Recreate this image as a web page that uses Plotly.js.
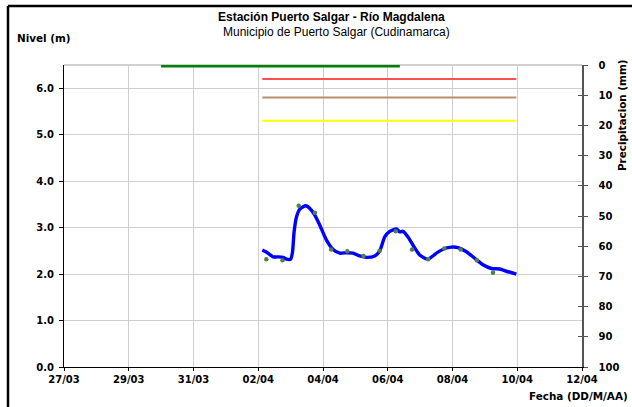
<!DOCTYPE html>
<html>
<head>
<meta charset="utf-8">
<script src="https://cdn.plot.ly/plotly-3.0.1.min.js"></script>
<style>html,body{margin:0;padding:0;background:#fff;overflow:hidden;}#chart{width:632px;height:407px;}</style>
</head>
<body>
<div id="chart"></div>
<script>
// Nivel (m) - continuous record
const levelDates = [
  '2011-04-02 03:00','2011-04-02 05:40','2011-04-02 08:35','2011-04-02 11:00','2011-04-02 14:45',
  '2011-04-02 18:25','2011-04-02 21:00','2011-04-03 00:00','2011-04-03 01:25','2011-04-03 02:35',
  '2011-04-03 04:20','2011-04-03 06:50','2011-04-03 11:15','2011-04-03 14:15','2011-04-03 17:55',
  '2011-04-03 21:40','2011-04-04 02:35','2011-04-04 07:30','2011-04-04 12:25','2011-04-04 17:25',
  '2011-04-04 22:15','2011-04-05 03:15','2011-04-05 08:15','2011-04-05 14:20','2011-04-05 18:05',
  '2011-04-05 21:45','2011-04-06 01:30','2011-04-06 06:25','2011-04-06 08:55','2011-04-06 11:20',
  '2011-04-06 15:00','2011-04-06 18:45','2011-04-06 23:40','2011-04-07 05:50','2011-04-07 12:05',
  '2011-04-07 18:15','2011-04-07 23:10','2011-04-08 04:05','2011-04-08 10:20','2011-04-08 16:25',
  '2011-04-08 22:35','2011-04-09 04:50','2011-04-09 11:00','2011-04-09 17:10','2011-04-09 23:20'
];
const levelValues = [
  2.52,2.48,2.42,2.37,2.37,
  2.36,2.32,2.32,2.48,2.91,
  3.23,3.40,3.47,3.41,3.27,
  3.05,2.73,2.53,2.45,2.46,
  2.45,2.39,2.36,2.39,2.50,
  2.80,2.92,2.97,2.91,2.92,
  2.80,2.62,2.41,2.32,2.45,
  2.55,2.58,2.57,2.48,2.34,
  2.20,2.12,2.11,2.05,2.00
];
// Lecturas de mira (06:00 y 18:00)
const readDates = [
  '2011-04-02 06:00','2011-04-02 18:00','2011-04-03 06:00','2011-04-03 18:00','2011-04-04 06:00',
  '2011-04-04 18:00','2011-04-05 06:00','2011-04-05 18:00','2011-04-06 06:00','2011-04-06 18:00',
  '2011-04-07 06:00','2011-04-07 18:00','2011-04-08 06:00','2011-04-08 18:00','2011-04-09 06:00'
];
const readValues = [2.32,2.30,3.47,3.32,2.53,2.49,2.39,2.50,2.92,2.53,2.32,2.55,2.53,2.30,2.03];
// Umbrales (m)
const thresholdNames = ['Rojo','Naranja','Amarillo'];
const thresholdValues = [6.2, 5.8, 5.3];
const thresholdColors = ['#ff5050','#b8906e','#ffff00'];
// Precipitación (mm)
const rainDates = ['2011-03-30 00:00','2011-04-06 09:00'];
const rainValues = [0, 0];
// Eje X
const xTicks = ['2011-03-27','2011-03-29','2011-03-31','2011-04-02','2011-04-04','2011-04-06','2011-04-08','2011-04-10','2011-04-12'];
const xTickText = ['27/03','29/03','31/03','02/04','04/04','06/04','08/04','10/04','12/04'];
const yTicks = [0,1,2,3,4,5,6];
const y2Ticks = [0,10,20,30,40,50,60,70,80,90,100];
const titleText = 'Estación Puerto Salgar - Río Magdalena';
const subtitleText = 'Municipio de Puerto Salgar (Cudinamarca)';

const L = 64, R = 582, T = 65, B = 367, W = 632, H = 407;
const px = v => (v - L) / (R - L);
const py = v => (B - v) / (B - T);

const tickFont = {family: 'DejaVu Sans', size: 10, color: '#000', weight: 'bold'};
const labelFont = {family: 'DejaVu Sans', size: 10.4, color: '#000', weight: 'bold'};

const traces = [];
thresholdValues.forEach((v, i) => {
  traces.push({
    x: [levelDates[0], levelDates[levelDates.length - 1]], y: [v, v],
    type: 'scatter', mode: 'lines', name: thresholdNames[i],
    line: {color: thresholdColors[i], width: 2}, hoverinfo: 'skip'
  });
});
traces.push({x: rainDates, y: rainValues, yaxis: 'y2', type: 'scatter', mode: 'lines',
  line: {color: '#008000', width: 5}, name: 'Precipitación'});
traces.push({x: levelDates, y: levelValues, type: 'scatter', mode: 'lines',
  line: {color: '#0000ff', width: 3.4, shape: 'spline', smoothing: 0.6}, name: 'Nivel'});
traces.push({x: readDates, y: readValues, type: 'scatter', mode: 'markers',
  marker: {color: '#4f7f4f', size: 4.5}, name: 'Lecturas'});
traces.push({x: [], y: [], yaxis: 'y3', type: 'scatter', mode: 'lines', showlegend: false});

const layout = {
  width: W, height: H,
  margin: {l: L, r: W - R, t: T, b: H - B, pad: 0},
  paper_bgcolor: '#fff', plot_bgcolor: '#fff',
  showlegend: false,
  font: {family: 'Liberation Sans, Arial, sans-serif', color: '#000'},
  xaxis: {
    type: 'date', range: ['2011-03-27', '2011-04-12'],
    tickmode: 'array', tickvals: xTicks, ticktext: xTickText,
    showgrid: true, gridcolor: '#cfcfcf', gridwidth: 1,
    showline: true, linecolor: '#000', linewidth: 1,
    ticks: 'outside', ticklen: 3, tickcolor: '#000',
    tickfont: tickFont, zeroline: false, fixedrange: true
  },
  yaxis: {
    range: [0, 6.5], tickmode: 'array', tickvals: yTicks, tickformat: '.1f',
    showgrid: true, gridcolor: '#cfcfcf', gridwidth: 1,
    showline: true, linecolor: '#000', linewidth: 1,
    ticks: 'outside', ticklen: 4, tickcolor: '#000', ticklabelstandoff: 3,
    tickfont: tickFont, zeroline: false, fixedrange: true
  },
  yaxis2: {
    overlaying: 'y', side: 'right', range: [100, 0],
    tickmode: 'array', tickvals: y2Ticks,
    showgrid: false, showline: true, linecolor: '#555', linewidth: 1.5,
    ticks: 'outside', ticklen: 4, tickcolor: '#555', ticklabelstandoff: 9,
    tickfont: tickFont, zeroline: false, fixedrange: true
  },
  yaxis3: {
    overlaying: 'y', side: 'right', range: [100, 0],
    tickmode: 'array', tickvals: y2Ticks, showticklabels: false,
    showgrid: false, showline: false,
    ticks: 'inside', ticklen: 4, tickcolor: '#555',
    zeroline: false, fixedrange: true
  },
  shapes: [
    {type: 'line', xref: 'paper', yref: 'paper', x0: 0, x1: 1, y0: 1, y1: 1,
      line: {color: '#c0c0c0', width: 1.5}, layer: 'below'},
    {type: 'line', xref: 'paper', yref: 'paper', x0: px(8), x1: px(8), y0: py(6), y1: py(H + 5),
      line: {color: '#000', width: 2.5}},
    {type: 'line', xref: 'paper', yref: 'paper', x0: px(8), x1: px(W + 5), y0: py(6), y1: py(6),
      line: {color: '#000', width: 2.5}}
  ],
  annotations: [
    {text: '<b>' + titleText + '</b>', xref: 'paper', yref: 'paper', x: px(331), y: py(17),
      xanchor: 'center', yanchor: 'middle', showarrow: false,
      font: {family: 'Liberation Sans, Arial, sans-serif', size: 12, color: '#000'}},
    {text: subtitleText, xref: 'paper', yref: 'paper', x: px(336), y: py(32),
      xanchor: 'center', yanchor: 'middle', showarrow: false,
      font: {family: 'Liberation Sans, Arial, sans-serif', size: 12, color: '#000'}},
    {text: 'Nivel (m)', xref: 'paper', yref: 'paper', x: px(15), y: py(38),
      xanchor: 'left', yanchor: 'middle', showarrow: false, font: labelFont},
    {text: 'Precipitacion (mm)', xref: 'paper', yref: 'paper', x: px(622), y: py(115),
      xanchor: 'center', yanchor: 'middle', textangle: -90, showarrow: false, font: labelFont},
    {text: 'Fecha (DD/M/AA)', xref: 'paper', yref: 'paper', x: px(527), y: py(396),
      xanchor: 'left', yanchor: 'middle', showarrow: false, font: labelFont}
  ]
};

Plotly.newPlot('chart', traces, layout, {displayModeBar: false, staticPlot: true});
</script>
</body>
</html>
